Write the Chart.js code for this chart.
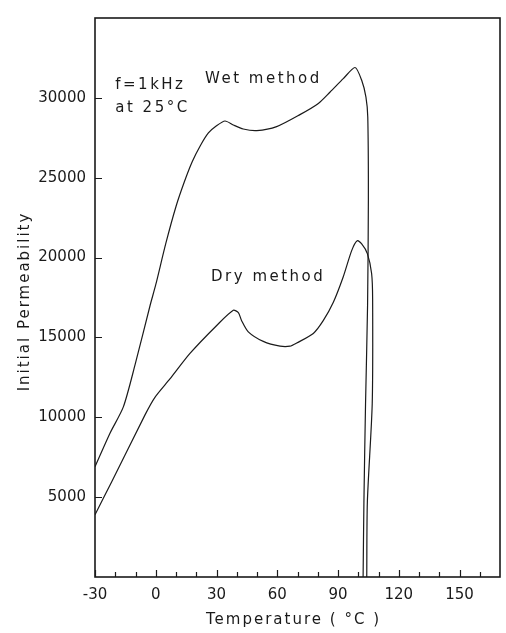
<!DOCTYPE html>
<html>
<head>
<meta charset="utf-8">
<script src="https://cdn.jsdelivr.net/npm/chart.js@4.4.1/dist/chart.umd.min.js"></script>
<style>
  body { margin: 0; background: #fff; }
</style>
</head>
<body>
<canvas id="chart" width="506" height="633"></canvas>
<script>
// values: temperature (°C) vs initial permeability
const wetTemp = [-30, -22.6, -16, -10.2, -2.8, 0, 5, 10, 14, 18, 22, 26, 30, 34.2, 38.3, 43.2, 49.9, 59.7, 71.2, 80.3, 86, 92.6, 98.4, 101.7, 103.8, 104.7, 105, 104.6, 103.6, 102.8, 102.4];
const wetPerm = [6900, 9000, 10650, 13300, 17000, 18300, 20900, 23200, 24700, 26000, 27000, 27800, 28250, 28550, 28300, 28050, 27950, 28200, 28950, 29650, 30350, 31200, 31900, 31100, 30050, 28800, 23700, 17000, 10850, 4700, 0];

const dryTemp = [-30, -21.8, -5.3, -0.4, 7, 16.9, 30.1, 38.3, 40.8, 42.4, 45.7, 53.1, 61.4, 66.3, 69.6, 77.8, 82.7, 87.7, 92.6, 96.8, 99.5, 101.7, 104.5, 106.6, 107.1, 106.9, 104.5, 104.2];
const dryPerm = [3900, 5950, 10150, 11250, 12400, 14000, 15750, 16700, 16550, 16050, 15350, 14750, 14450, 14450, 14650, 15250, 16050, 17200, 18800, 20450, 21050, 20850, 20250, 19000, 17400, 10850, 4700, 0];

const xTickLabels = [-30, 0, 30, 60, 90, 120, 150];
const xMinorTicks = [-20, -10, 10, 20, 40, 50, 70, 80, 100, 110, 130, 140, 160];
const yTickLabels = [5000, 10000, 15000, 20000, 25000, 30000];

const xTitle = "Temperature ( °C )";
const yTitle = "Initial Permeability";

const FONT = '"DejaVu Sans", sans-serif';
const INK = "#1a1a1a";

function toPoints(xs, ys) {
  return xs.map((x, i) => ({ x: x, y: ys[i] }));
}

// frame, inward ticks and the text written on the plot
const decorations = {
  id: "decorations",
  afterDatasetsDraw(chart) {
    const ctx = chart.ctx;
    const a = chart.chartArea;
    const xs = chart.scales.x;
    const ys = chart.scales.y;
    ctx.save();
    ctx.strokeStyle = INK;
    ctx.lineWidth = 1.6;
    ctx.strokeRect(a.left, a.top, a.right - a.left, a.bottom - a.top);

    ctx.lineWidth = 1.2;
    ctx.beginPath();
    xTickLabels.concat(xMinorTicks).forEach(v => {
      const px = Math.round(xs.getPixelForValue(v)) + 0.5;
      const len = xTickLabels.includes(v) ? 7 : 5;
      ctx.moveTo(px, a.bottom);
      ctx.lineTo(px, a.bottom - len);
    });
    yTickLabels.forEach(v => {
      const py = Math.round(ys.getPixelForValue(v)) + 0.5;
      ctx.moveTo(a.left, py);
      ctx.lineTo(a.left + 7, py);
    });
    ctx.stroke();

    ctx.fillStyle = INK;
    ctx.font = "15px " + FONT;
    ctx.textBaseline = "middle";
    ctx.textAlign = "left";
    ctx.letterSpacing = "2.5px";
    const notes = [
      ["Wet method", 24.3, 31150],
      ["Dry method", 27.3, 18800],
      ["f=1kHz", -20, 30800],
      ["at 25°C", -20, 29350]
    ];
    notes.forEach(n => {
      ctx.fillText(n[0], xs.getPixelForValue(n[1]), ys.getPixelForValue(n[2]));
    });

    // axis titles
    ctx.letterSpacing = "2px";
    ctx.textAlign = "center";
    ctx.fillText(xTitle, (a.left + a.right) / 2 - 4, 620);
    ctx.translate(25, (a.top + a.bottom) / 2 + 4);
    ctx.rotate(-Math.PI / 2);
    ctx.fillText(yTitle, 0, 0);
    ctx.restore();
  }
};

const ctx = document.getElementById("chart").getContext("2d");
new Chart(ctx, {
  type: "line",
  data: {
    datasets: [
      {
        label: "Wet method",
        data: toPoints(wetTemp, wetPerm),
        borderColor: INK,
        borderWidth: 1.2,
        pointRadius: 0,
        tension: 0.25,
        fill: false
      },
      {
        label: "Dry method",
        data: toPoints(dryTemp, dryPerm),
        borderColor: INK,
        borderWidth: 1.2,
        pointRadius: 0,
        tension: 0.25,
        fill: false
      }
    ]
  },
  options: {
    responsive: false,
    animation: false,
    devicePixelRatio: 1,
    layout: { padding: { top: 6, right: 6, left: 0, bottom: 0 } },
    plugins: {
      legend: { display: false },
      tooltip: { enabled: false }
    },
    scales: {
      x: {
        type: "linear",
        min: -30,
        max: 170,
        grid: { display: false, drawTicks: false },
        border: { display: false },
        afterBuildTicks: s => { s.ticks = xTickLabels.map(v => ({ value: v })); },
        afterFit: s => { s.height = 56; },
        ticks: {
          autoSkip: false,
          maxRotation: 0,
          padding: 9,
          color: INK,
          font: { family: FONT, size: 15 }
        }
      },
      y: {
        type: "linear",
        min: 0,
        max: 35000,
        grid: { display: false, drawTicks: false },
        border: { display: false },
        afterBuildTicks: s => { s.ticks = yTickLabels.map(v => ({ value: v })); },
        afterFit: s => { s.width = 95; },
        ticks: {
          padding: 9,
          color: INK,
          font: { family: FONT, size: 15 },
          callback: v => String(v)
        }
      }
    }
  },
  plugins: [decorations]
});
</script>
</body>
</html>
